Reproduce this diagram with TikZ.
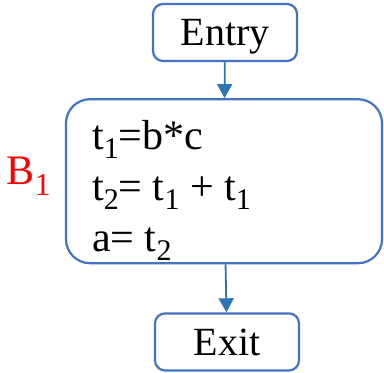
\documentclass[tikz,border=0pt]{standalone}
\usepackage{fontspec}
\setmainfont{Liberation Serif}
\usetikzlibrary{arrows.meta,positioning}
\definecolor{borde}{HTML}{4472C4}
\definecolor{flecha}{HTML}{2E75B6}
\newcommand{\lo}[1]{\raisebox{-9pt}{\fontsize{30}{30}\selectfont #1}}

\begin{document}
\begin{tikzpicture}[
caja/.style={draw=borde,line width=2.2pt,rounded corners=10pt,fill=white,minimum width=144pt,minimum height=57pt,text depth=0pt,font=\fontsize{40}{48}\selectfont},
bloque/.style={draw=borde,line width=2.2pt,rounded corners=24pt,minimum width=316pt,minimum height=164pt},
codigo/.style={align=left,inner sep=0pt,font=\fontsize{42}{51}\selectfont},
etiqueta/.style={text=red,inner sep=0pt,font=\fontsize{42}{48}\selectfont},
arr/.style={-{Triangle[length=14pt,width=15pt]},draw=flecha,fill=flecha,line width=1.8pt}
]
\useasboundingbox (0,0) rectangle (384pt,-373pt);
\node[caja] (entry) at (225pt,-32.5pt) {Entry};
\node[bloque,below=36pt of entry,xshift=-1pt] (b1) {};
\node[codigo,below right=22pt and 27pt of b1.north west] (code)
  {t\lo{1}=b*c\\ t\lo{2}= t\lo{1} + t\lo{1}\\ a= t\lo{2}};
\node[etiqueta,left=14pt of b1,yshift=5pt] (nombre) {B\raisebox{-11pt}{\fontsize{32}{32}\selectfont 1}};
\node[caja,below=48pt of b1,xshift=3pt] (exit) {Exit};

\draw[arr] (entry) -- (b1);
\draw[arr] (b1) -- (exit);
\end{tikzpicture}
\end{document}
